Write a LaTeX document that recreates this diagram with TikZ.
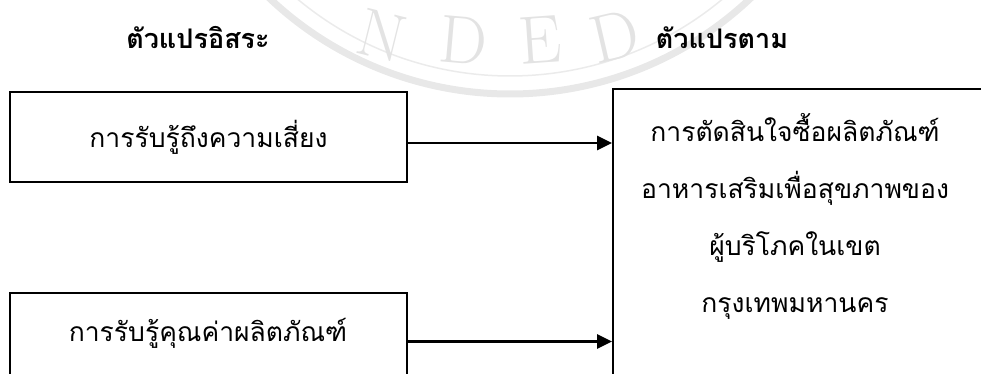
\documentclass[tikz,border=0pt]{standalone}
\usepackage{fontspec}
\newfontfamily\thaifont[Script=Thai]{Loma}
\usetikzlibrary{arrows.meta,calc}
\tikzset{
  boxstyle/.style={draw=black, line width=1.6pt, inner sep=0pt},
  arr/.style={line width=2.6pt, -{Triangle[length=15pt,width=14pt]}},
  ttl/.style={font=\thaifont\bfseries\fontsize{27}{32}\selectfont},
  txt/.style={font=\thaifont\fontsize{26.5}{57}\selectfont, align=center},
  wm/.style={draw=black!9, line width=7pt},
  wmtext/.style={text=black!11, inner sep=0pt, font=\fontsize{68}{68}\selectfont}
}
\begin{document}
\begin{tikzpicture}[x=1pt,y=-1pt]
\useasboundingbox (0,0) rectangle (981,374);
\clip (0,0) rectangle (981,374);
% faint watermark
\draw[wm] (510,-256) ++(40:350) arc[start angle=40, end angle=140, radius=350];
\draw[draw=black!8, line width=1.5pt] (510,-256) ++(50:332) arc[start angle=50, end angle=130, radius=332];
\node[wmtext, rotate=-14] (w1) at (382,36) {N};
\node[wmtext, rotate=-5] (w2) at (463,40) {D};
\node[wmtext, rotate=4] (w3) at (540,40) {E};
\node[wmtext, rotate=13] (w4) at (615,36) {D};
% titles
\node[ttl] (iv) at (198,38) {ตัวแปรอิสระ};
\node[ttl] (dvt) at (722,38) {ตัวแปรตาม};
% boxes
\node[boxstyle, minimum width=397pt, minimum height=90pt] (b1) at (208.5,137) {};
\node[txt] (t1) at (b1.center) {การรับรู้ถึงความเสี่ยง};
\node[boxstyle, minimum width=397pt, minimum height=97pt] (b2) at (208.5,341.5) {};
\node[txt] (t2) at (208,333) {การรับรู้คุณค่าผลิตภัณฑ์};
\node[boxstyle, minimum width=390pt, minimum height=310pt, anchor=north west] (dv) at (612,88) {};
\node[txt] (t3) at (795,216) {การตัดสินใจซื้อผลิตภัณฑ์\\อาหารเสริมเพื่อสุขภาพของ\\ผู้บริโภคในเขต\\กรุงเทพมหานคร};
% arrows
\draw[arr] ([yshift=-6pt]b1.east) -- ([yshift=-6pt]b1.east -| dv.west);
\draw[arr] (b2.east) -- (b2.east -| dv.west);
\end{tikzpicture}
\end{document}
